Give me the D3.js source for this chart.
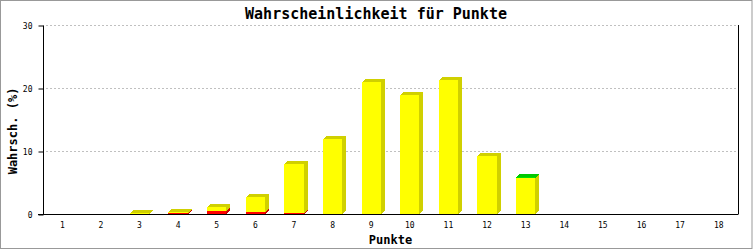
<!DOCTYPE html>
<html>
<head>
<meta charset="utf-8">
<script src="https://cdn.jsdelivr.net/npm/d3@7"></script>
<style>
  body { margin: 0; background: #fff; }
  svg { display: block; }
</style>
</head>
<body>
<script>
// Wahrscheinlichkeit für Punkte

// Daten
var categories = ['1','2','3','4','5','6','7','8','9','10','11','12','13','14','15','16','17','18'];
var red    = [0, 0, 0,    0.2,  0.4, 0.25, 0.15, 0,    0,    0,    0,    0,   0,    0, 0, 0, 0, 0];
var yellow = [0, 0, 0.15, 0.1,  0.7, 2.45, 7.85, 11.9, 21.0, 18.9, 21.3, 9.2, 5.7,  0, 0, 0, 0, 0];
var green  = [0, 0, 0,    0,    0,   0,    0,    0,    0,    0,    0,    0,   0.15, 0, 0, 0, 0, 0];
var yTicks = [0, 10, 20, 30];

var series = [
  { key: 'red',    values: red,    front: '#ff0000', shade: '#cc0000' },
  { key: 'yellow', values: yellow, front: '#ffff00', shade: '#d0d000' },
  { key: 'green',  values: green,  front: '#00e000', shade: '#00c800' }
];

var rows = categories.map(function(c, i){
  var r = { cat: c };
  series.forEach(function(s){ r[s.key] = s.values[i]; });
  return r;
});

var W = 753, H = 250;
var pLeft = 43, pRight = 738, pTop = 25, pBottom = 214;
var depthX = 4, depthY = 3;

var x = d3.scaleBand()
  .domain(categories)
  .range([pLeft, pRight])
  .paddingInner(0.5)
  .paddingOuter(0.25);

var y = d3.scaleLinear()
  .domain([0, 30])
  .range([pBottom, pTop]);

var stack = d3.stack().keys(series.map(function(s){ return s.key; }));
var layers = stack(rows);

var svg = d3.select('body')
  .append('svg')
  .attr('width', W)
  .attr('height', H);

svg.append('rect')
  .attr('x', 0.5).attr('y', 0.5)
  .attr('width', W - 1.5).attr('height', H - 2)
  .attr('fill', '#fff')
  .attr('stroke', '#999');

// Titel
svg.append('text')
  .attr('x', 376).attr('y', 19)
  .attr('text-anchor', 'middle')
  .attr('font-family', 'DejaVu Sans Mono')
  .attr('font-weight', 'bold')
  .attr('font-size', 15)
  .text('Wahrscheinlichkeit für Punkte');

// Gitter
svg.append('g')
  .selectAll('line')
  .data(yTicks.filter(function(t){ return t > 0; }))
  .enter()
    .append('line')
      .attr('x1', pLeft + 3).attr('x2', pRight)
      .attr('y1', function(d){ return Math.round(y(d)) + 0.5; })
      .attr('y2', function(d){ return Math.round(y(d)) + 0.5; })
      .attr('stroke', '#c0c0c0')
      .attr('stroke-dasharray', '2,2');

// Achsen
var yAxis = svg.append('g')
  .attr('transform', 'translate(' + (pLeft + 0.5) + ',0.5)')
  .call(d3.axisLeft(y).tickValues(yTicks).tickSize(5).tickPadding(6));
yAxis.select('.domain').attr('d', 'M0,' + pTop + 'V' + pBottom);
yAxis.selectAll('text')
  .attr('font-family', 'DejaVu Sans Mono')
  .attr('font-size', 8)
  .attr('fill', '#000');

var xAxis = svg.append('g')
  .attr('transform', 'translate(0,' + (pBottom + 0.5) + ')')
  .call(d3.axisBottom(x).tickSize(0).tickPadding(8));
xAxis.select('.domain').attr('d', 'M' + (pLeft - 5) + ',0H' + (pRight + 0.5));
xAxis.selectAll('text')
  .attr('font-family', 'DejaVu Sans Mono')
  .attr('font-size', 8)
  .attr('fill', '#000');

svg.append('line')
  .attr('x1', pRight + 0.5).attr('x2', pRight + 0.5)
  .attr('y1', pTop).attr('y2', pBottom)
  .attr('stroke', '#000');

// Balken (3D)
var bw = x.bandwidth();
var barGroups = svg.append('g')
  .attr('shape-rendering', 'crispEdges')
  .selectAll('g.cat')
  .data(rows)
  .enter()
    .append('g')
      .attr('class', 'cat');

barGroups.each(function(row, i){
  var g = d3.select(this);
  layers.forEach(function(layer, k){
    var seg = layer[i];
    if (seg[1] - seg[0] <= 0) return;
    var s = series[k];
    var x0 = Math.round(x(row.cat)), x1 = Math.round(x(row.cat) + bw);
    var y0 = Math.round(y(seg[0])), y1 = Math.min(Math.round(y(seg[1])), y0 - 1);
    g.append('rect')
      .attr('x', x0).attr('y', y1)
      .attr('width', x1 - x0).attr('height', y0 - y1)
      .attr('fill', s.front);
    g.append('path')
      .attr('d', 'M' + x1 + ',' + y0 + 'L' + (x1 + depthX) + ',' + (y0 - depthY) +
                 'L' + (x1 + depthX) + ',' + (y1 - depthY) + 'L' + x1 + ',' + y1 + 'Z')
      .attr('fill', s.shade);
    g.append('path')
      .attr('d', 'M' + x0 + ',' + y1 + 'L' + (x0 + depthX) + ',' + (y1 - depthY) +
                 'L' + (x1 + depthX) + ',' + (y1 - depthY) + 'L' + x1 + ',' + y1 + 'Z')
      .attr('fill', s.shade);
  });
});

// Achsentitel
svg.append('text')
  .attr('x', (pLeft + pRight) / 2).attr('y', 244)
  .attr('text-anchor', 'middle')
  .attr('font-family', 'DejaVu Sans Mono')
  .attr('font-weight', 'bold')
  .attr('font-size', 12)
  .text('Punkte');

svg.append('text')
  .attr('transform', 'translate(17,131) rotate(-90)')
  .attr('text-anchor', 'middle')
  .attr('font-family', 'DejaVu Sans Mono')
  .attr('font-weight', 'bold')
  .attr('font-size', 12)
  .text('Wahrsch. (%)');
</script>
</body>
</html>
